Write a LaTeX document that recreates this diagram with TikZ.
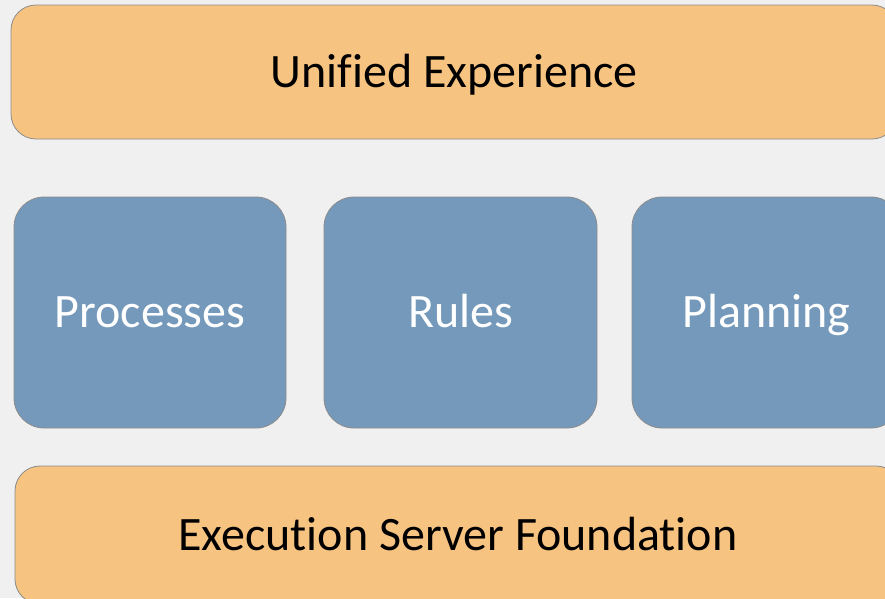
\documentclass[tikz,border=0pt]{standalone}
\usepackage{fontspec}
\setmainfont{Carlito}[Ligatures=NoCommon]
\definecolor{bgcol}{HTML}{F0F0F0}
\definecolor{layercol}{HTML}{F7C381}
\definecolor{enginecol}{HTML}{7599BB}
\definecolor{edgecol}{HTML}{8C8C8C}
\tikzset{
    layer/.style={draw=edgecol,line width=0.8pt,fill=layercol,rounded corners=25pt,
        inner sep=0pt,text height=30pt,text depth=0pt,
        font=\fontsize{48}{58}\selectfont,text=black},
    engine/.style={draw=edgecol,line width=0.8pt,fill=enginecol,rounded corners=30pt,
        inner sep=0pt,text height=30pt,text depth=0pt,minimum height=231pt,
        font=\fontsize{48}{58}\selectfont,text=white}
}
\begin{document}
\begin{tikzpicture}[x=1pt,y=-1pt]
    \path[use as bounding box,clip] (0,0) rectangle (885,598);
    \fill[bgcol] (0,0) rectangle (885,598);
    % top and bottom layers
    \node[layer,minimum width=886pt,minimum height=134pt] (unified) at (454,72) {Unified Experience};
    \node[layer,minimum width=886pt,minimum height=138pt] (foundation) at (458,535) {Execution Server Foundation};
    % engines
    \node[engine,minimum width=272pt] (processes) at (150,312.5) {Processes};
    \node[engine,minimum width=273pt] (rules) at (460.5,312.5) {Rules};
    \node[engine,minimum width=269pt] (planning) at (766.5,312.5) {Planning};
\end{tikzpicture}
\end{document}
